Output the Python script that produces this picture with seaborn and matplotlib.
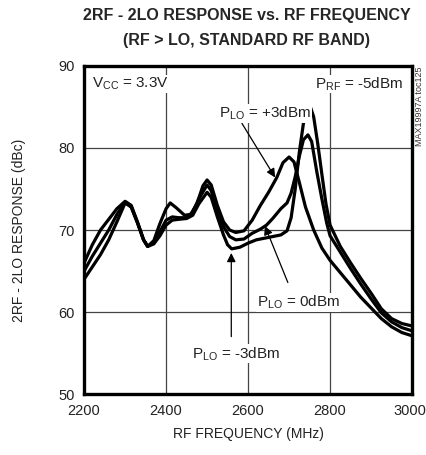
import matplotlib
matplotlib.use("Agg")
import pandas as pd
import seaborn as sns
import matplotlib.pyplot as plt
import matplotlib.transforms as mtransforms
from matplotlib import font_manager

# P_LO = +3dBm
freq_p3 = [2200, 2220, 2240, 2260, 2280, 2300, 2315, 2330, 2345, 2355, 2370, 2385,
           2400, 2410, 2425, 2445, 2460, 2475, 2490, 2500, 2510, 2525, 2540, 2555,
           2570, 2590, 2610, 2630, 2650, 2670, 2685, 2700, 2712, 2725, 2740, 2760,
           2780, 2800, 2825, 2850, 2875, 2900, 2925, 2950, 2975, 3000]
resp_p3 = [66.0, 68.2, 70.0, 71.3, 72.6, 73.5, 73.0, 71.0, 68.8, 68.0, 68.7, 70.8,
           72.6, 73.3, 72.7, 71.8, 71.9, 73.2, 75.4, 76.1, 75.5, 73.0, 71.0, 70.0,
           69.7, 69.9, 71.2, 73.0, 74.6, 76.4, 78.2, 78.9, 78.3, 75.8, 72.8, 70.0,
           67.8, 66.3, 64.8, 63.3, 61.8, 60.5, 59.2, 58.2, 57.5, 57.1]

# P_LO = 0dBm
freq_0 = [2200, 2220, 2240, 2260, 2280, 2300, 2315, 2330, 2345, 2355, 2370, 2385,
          2400, 2415, 2430, 2450, 2465, 2480, 2500, 2510, 2525, 2540, 2555, 2570,
          2590, 2610, 2630, 2645, 2660, 2680, 2695, 2705, 2715, 2725, 2735, 2746,
          2755, 2768, 2780, 2792, 2800, 2825, 2850, 2875, 2900, 2925, 2950, 2975, 3000]
resp_0 = [65.0, 66.8, 68.4, 70.0, 71.9, 73.4, 72.8, 70.9, 68.8, 68.0, 68.5, 69.8,
          71.2, 71.6, 71.5, 71.5, 72.2, 73.8, 75.5, 74.8, 72.4, 70.4, 69.2, 68.8,
          68.9, 69.6, 70.1, 70.6, 71.4, 72.6, 73.3, 74.5, 76.5, 79.0, 81.0, 81.6,
          80.8, 77.0, 73.8, 70.8, 69.3, 67.3, 65.3, 63.4, 61.6, 59.9, 58.8, 58.1, 57.7]

# P_LO = -3dBm
freq_m3 = [2200, 2220, 2240, 2260, 2280, 2300, 2315, 2330, 2345, 2355, 2370, 2385,
           2400, 2415, 2430, 2450, 2465, 2480, 2500, 2510, 2525, 2540, 2550, 2560,
           2580, 2600, 2620, 2640, 2660, 2680, 2695, 2705, 2715, 2725, 2735, 2745,
           2752, 2760, 2770, 2780, 2790, 2800, 2825, 2850, 2875, 2900, 2925, 2950,
           2975, 3000]
resp_m3 = [64.0, 65.5, 67.0, 68.8, 71.0, 73.3, 72.8, 70.9, 68.8, 68.0, 68.3, 69.3,
           70.6, 71.2, 71.3, 71.4, 71.8, 73.2, 74.6, 74.0, 71.6, 69.4, 68.2, 67.7,
           67.9, 68.4, 68.8, 69.0, 69.2, 69.4, 69.9, 71.5, 75.0, 79.5, 83.0, 84.8,
           85.0, 83.8, 80.5, 76.8, 73.2, 70.6, 68.0, 66.0, 64.1, 62.3, 60.4, 59.2,
           58.6, 58.3]

x_ticks = [2200, 2400, 2600, 2800, 3000]
y_ticks = [50, 60, 70, 80, 90]

df = pd.concat([
    pd.DataFrame({"freq": freq_p3, "resp": resp_p3, "plo": "+3dBm"}),
    pd.DataFrame({"freq": freq_0, "resp": resp_0, "plo": "0dBm"}),
    pd.DataFrame({"freq": freq_m3, "resp": resp_m3, "plo": "-3dBm"}),
])

sns.set_style("white")
names = {f.name for f in font_manager.fontManager.ttflist}
font = "Liberation Sans Narrow" if "Liberation Sans Narrow" in names else "Liberation Sans"
plt.rcParams["font.family"] = [font, "DejaVu Sans"]
plt.rcParams["mathtext.fontset"] = "custom"
plt.rcParams["mathtext.rm"] = font
plt.rcParams["mathtext.it"] = font
plt.rcParams["mathtext.bf"] = font

fig = plt.figure(figsize=(4.27, 4.55), dpi=100)
ax = fig.add_axes([0.197, 0.134, 0.768, 0.721])

sns.lineplot(data=df, x="freq", y="resp", hue="plo",
             palette=["black", "black", "black"], estimator=None,
             legend=False, lw=2.3, ax=ax, solid_joinstyle="round")

ax.set_xlim(2200, 3000)
ax.set_ylim(50, 90)
ax.set_xticks(x_ticks)
ax.set_yticks(y_ticks)
ax.grid(True, color="#444444", lw=0.9)
ax.tick_params(length=0, labelsize=10.5, pad=7, colors="#222222")
for s in ax.spines.values():
    s.set_linewidth(2.4)
    s.set_color("black")
ax.set_xlabel("RF FREQUENCY (MHz)", fontsize=10, labelpad=7, color="#222222")
ax.set_ylabel("2RF - 2LO RESPONSE (dBc)", fontsize=10, labelpad=23, color="#222222")

# keep the last x tick label inside the figure edge
last = ax.get_xticklabels()[-1]
last.set_ha("right")
last.set_transform(last.get_transform() +
                   mtransforms.ScaledTranslation(14 / 100, 0, fig.dpi_scale_trans))

fig.text(0.578, 1 - 15.5 / 455, "2RF - 2LO RESPONSE vs. RF FREQUENCY",
         ha="center", va="center", fontsize=11.5, fontweight="bold")
fig.text(0.578, 1 - 40 / 455, "(RF > LO, STANDARD RF BAND)",
         ha="center", va="center", fontsize=11.5, fontweight="bold")

tk = dict(fontsize=11, color="#222222",
          bbox=dict(facecolor="white", edgecolor="none", pad=0.5))
ax.text(2220, 87.8, r"V$_{\rm CC}$ = 3.3V", ha="left", va="center", **tk)
ax.text(2978, 87.8, r"P$_{\rm RF}$ = -5dBm", ha="right", va="center", **tk)

arrow = dict(arrowstyle="-|>", color="black", lw=0.9, mutation_scale=13,
             shrinkA=0, shrinkB=0)
ax.annotate("", xy=(2666, 76.4), xytext=(2585, 83.0), arrowprops=arrow)
ax.text(2530, 84.2, r"P$_{\rm LO}$ = +3dBm", ha="left", va="center", **tk)
ax.annotate("", xy=(2641, 70.5), xytext=(2697, 63.6), arrowprops=arrow)
ax.text(2622, 61.2, r"P$_{\rm LO}$ = 0dBm", ha="left", va="center", **tk)
ax.annotate("", xy=(2559, 67.2), xytext=(2559, 57.0), arrowprops=arrow)
ax.text(2462, 54.9, r"P$_{\rm LO}$ = -3dBm", ha="left", va="center", **tk)

fig.text(420 / 427, 1 - 106 / 455, "MAX19997A toc125", rotation=90,
         ha="center", va="center", fontsize=6.5, color="#333333")

fig.savefig("out.png", dpi=100)
